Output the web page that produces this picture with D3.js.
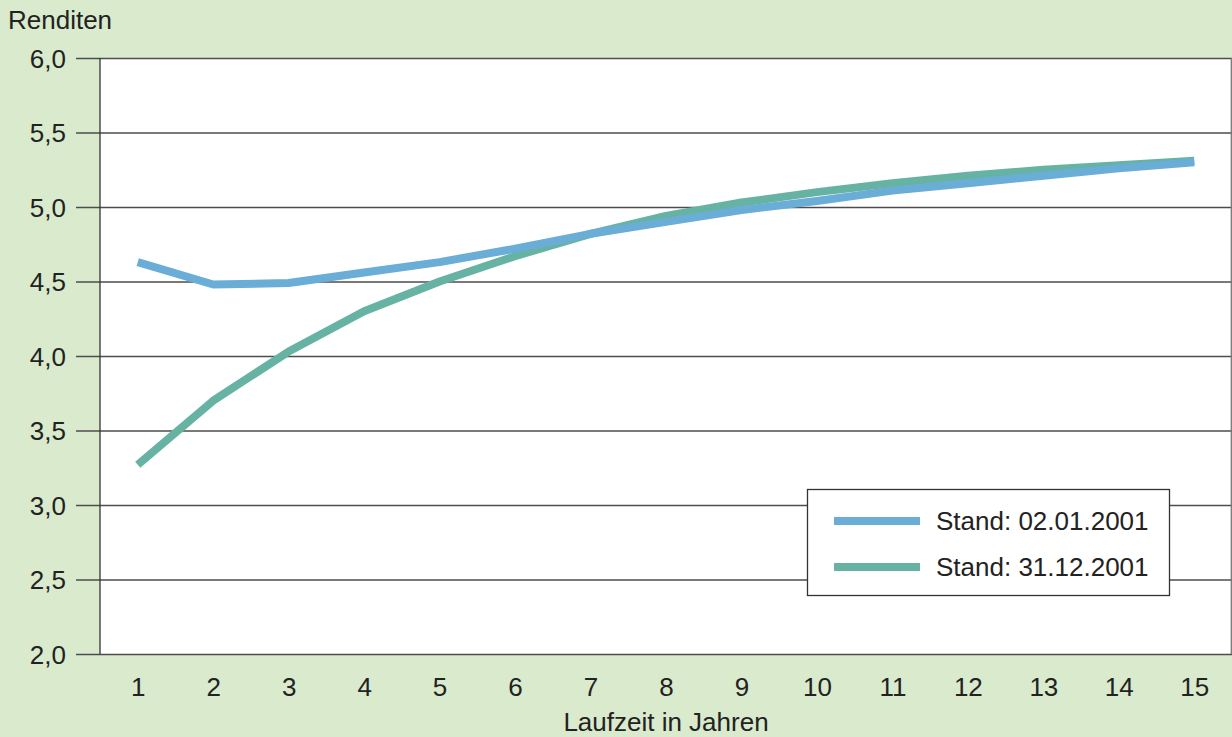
<!DOCTYPE html>
<html>
<head>
<meta charset="utf-8">
<script src="https://cdn.jsdelivr.net/npm/d3@7"></script>
<style>
  html, body { margin: 0; padding: 0; background: #d9eacd; }
  svg { display: block; font-family: "Liberation Sans", Arial, sans-serif; }
</style>
</head>
<body>
<svg id="chart" width="1232" height="737"></svg>
<script>
// Laufzeiten (Jahre) und Renditen (%) der beiden Stichtage
const laufzeiten = [1, 2, 3, 4, 5, 6, 7, 8, 9, 10, 11, 12, 13, 14, 15];
const renditenJan = [4.63, 4.48, 4.49, 4.56, 4.63, 4.72, 4.82, 4.90, 4.98, 5.04, 5.11, 5.16, 5.21, 5.26, 5.30];
const renditenDez = [3.27, 3.70, 4.03, 4.30, 4.50, 4.67, 4.82, 4.94, 5.03, 5.10, 5.16, 5.21, 5.25, 5.28, 5.31];
const yTicks = [2.0, 2.5, 3.0, 3.5, 4.0, 4.5, 5.0, 5.5, 6.0];
const serien = [
  { name: "Stand: 31.12.2001", werte: renditenDez, farbe: "#67b3a3" },
  { name: "Stand: 02.01.2001", werte: renditenJan, farbe: "#6aadd6" }
];
const legendeReihenfolge = [serien[1], serien[0]];

const svg = d3.select("#chart");
const W = 1232, H = 737;
const m = { left: 100, right: 0, top: 58, bottom: 83 };
const FS = 26;

svg.append("rect").attr("width", W).attr("height", H).attr("fill", "#d9eacd");

const x = d3.scalePoint().domain(laufzeiten).range([m.left, W - m.right]).padding(0.5);
const y = d3.scaleLinear().domain([2, 6]).range([H - m.bottom, m.top]);

// Plotfläche
svg.append("rect")
  .attr("x", m.left).attr("y", m.top)
  .attr("width", W - m.right - m.left).attr("height", y(2) - m.top)
  .attr("fill", "#ffffff");

// Gitterlinien mit Tickstrichen links
const fmt = v => d3.format(".1f")(v).replace(".", ",");
const yAxis = d3.axisLeft(y).tickValues(yTicks).tickFormat(fmt)
  .tickSize(-(W - m.right - m.left)).tickPadding(10);
const gy = svg.append("g").attr("transform", `translate(${m.left},0)`).call(yAxis);
gy.select(".domain").remove();
gy.selectAll(".tick line").attr("stroke", "#4d4d4d").attr("stroke-width", 1.3)
  .attr("x1", -24);
gy.selectAll(".tick text").attr("font-size", FS).attr("fill", "#222").attr("x", -34)
  .attr("dy", "0.36em");

// linke Achse
svg.append("line")
  .attr("x1", m.left).attr("x2", m.left).attr("y1", m.top).attr("y2", y(2))
  .attr("stroke", "#333").attr("stroke-width", 1.3);
// rechter Rand
svg.append("line")
  .attr("x1", W - 0.7).attr("x2", W - 0.7).attr("y1", m.top).attr("y2", y(2))
  .attr("stroke", "#777").attr("stroke-width", 1.3);

// x-Achse
const xAxis = d3.axisBottom(x).tickSize(0).tickPadding(24);
const gx = svg.append("g").attr("transform", `translate(0,${y(2)})`).call(xAxis);
gx.select(".domain").remove();
gx.selectAll(".tick text").attr("font-size", FS).attr("fill", "#222");

// Linien
const line = d3.line().x((d, i) => x(laufzeiten[i])).y(d => y(d));
svg.selectAll("path.serie").data(serien).join("path")
  .attr("class", "serie")
  .attr("d", d => line(d.werte))
  .attr("fill", "none")
  .attr("stroke", d => d.farbe)
  .attr("stroke-width", 8)
  .attr("stroke-linejoin", "round");

// Legende
const lg = svg.append("g");
lg.append("rect").attr("x", 807.5).attr("y", 489.5).attr("width", 362).attr("height", 106)
  .attr("fill", "#fff").attr("stroke", "#333").attr("stroke-width", 1.3);
legendeReihenfolge.forEach((s, i) => {
  const yy = 521 + i * 46;
  lg.append("line").attr("x1", 834).attr("x2", 920).attr("y1", yy).attr("y2", yy)
    .attr("stroke", s.farbe).attr("stroke-width", 8);
  lg.append("text").attr("x", 936).attr("y", yy).attr("dy", "0.36em")
    .attr("font-size", FS).attr("fill", "#222").text(s.name);
});

// Achsentitel
svg.append("text").attr("x", 8).attr("y", 29).attr("font-size", FS).attr("fill", "#222")
  .text("Renditen");
svg.append("text").attr("x", (m.left + W) / 2).attr("y", 731).attr("text-anchor", "middle")
  .attr("font-size", FS).attr("fill", "#222").text("Laufzeit in Jahren");
</script>
</body>
</html>
